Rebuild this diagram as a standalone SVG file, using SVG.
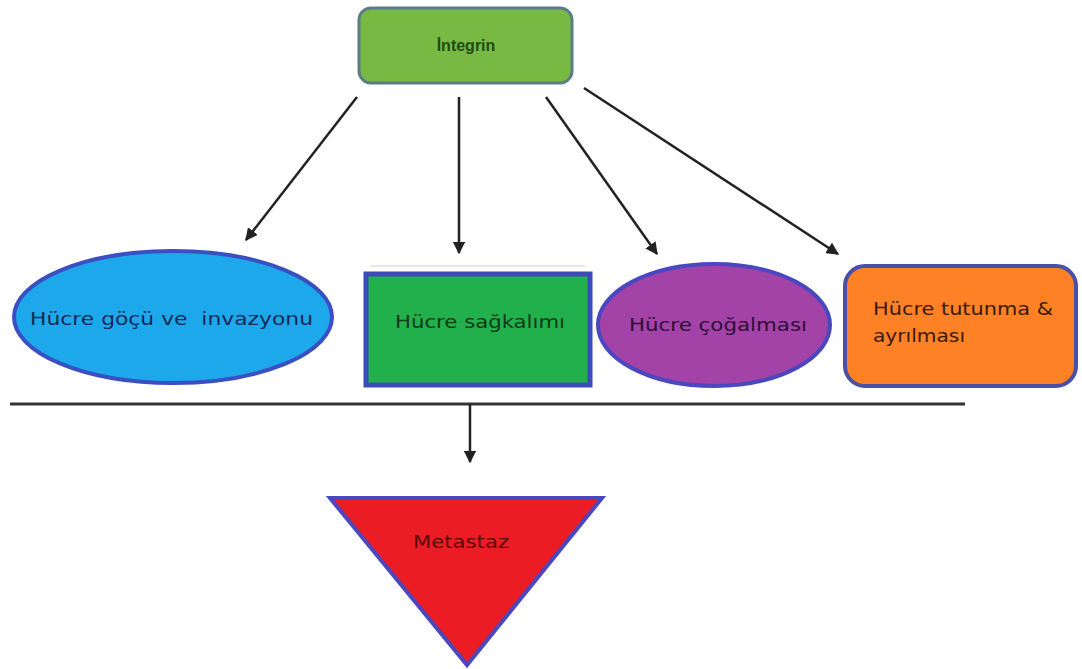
<svg xmlns="http://www.w3.org/2000/svg" width="1082" height="669" viewBox="0 0 1082 669">
<defs>
<marker id="ah" viewBox="0 0 10 10" refX="9" refY="5" markerWidth="5" markerHeight="5" orient="auto" markerUnits="strokeWidth">
<path d="M0,0 L10,5 L0,10 z" fill="#222"/>
</marker>
<style>
.lbl{font-family:"DejaVu Sans","Liberation Sans",sans-serif;font-size:17px;}
.conn{stroke:#222;stroke-width:2.5;fill:none;}
</style>
</defs>
<rect width="1082" height="669" fill="#fff"/>
<g id="integrin">
<rect x="359" y="8" width="213" height="75" rx="12" fill="#78b944" stroke="#5b7d86" stroke-width="3"/>
<text x="466" y="51" text-anchor="middle" font-family="Liberation Sans, sans-serif" font-size="16" font-weight="bold" fill="#1d4a12">İntegrin</text>
</g>
<g id="connectors">
<line class="conn" x1="357" y1="97" x2="246" y2="240" marker-end="url(#ah)"/>
<line class="conn" x1="459" y1="97" x2="459" y2="253" marker-end="url(#ah)"/>
<line class="conn" x1="546" y1="97" x2="657" y2="254" marker-end="url(#ah)"/>
<line class="conn" x1="584" y1="88" x2="838" y2="254" marker-end="url(#ah)"/>
<line x1="10" y1="404" x2="965" y2="404" stroke="#333" stroke-width="3"/>
<line class="conn" x1="470" y1="404" x2="470" y2="462" marker-end="url(#ah)"/>
</g>
<g id="goc">
<ellipse cx="173" cy="317" rx="159" ry="66" fill="#1ea8ec" stroke="#3a4fc2" stroke-width="4"/>
<text class="lbl" x="30" y="325" textLength="283" lengthAdjust="spacingAndGlyphs" fill="#122a55" xml:space="preserve">Hücre göçü ve  invazyonu</text>
</g>
<g id="sagkalim">
<line x1="370" y1="266" x2="585" y2="266" stroke="#ccc" stroke-width="1"/>
<rect x="366" y="274" width="224" height="111" fill="#22b04c" stroke="#3b4cb8" stroke-width="5"/>
<text class="lbl" x="395" y="328" textLength="170" lengthAdjust="spacingAndGlyphs" fill="#0e3a18">Hücre sağkalımı</text>
</g>
<g id="cogalma">
<ellipse cx="714" cy="325" rx="116" ry="61" fill="#a342a7" stroke="#4a47bf" stroke-width="4"/>
<text class="lbl" x="629" y="331" textLength="178" lengthAdjust="spacingAndGlyphs" fill="#2e0d38">Hücre çoğalması</text>
</g>
<g id="tutunma">
<rect x="845" y="266" width="231" height="120" rx="20" fill="#fe8126" stroke="#4a4fa8" stroke-width="4"/>
<text class="lbl" x="873" y="315" textLength="180" lengthAdjust="spacingAndGlyphs" fill="#3a1a08">Hücre tutunma &amp;</text>
<text class="lbl" x="873" y="342" textLength="92" lengthAdjust="spacingAndGlyphs" fill="#3a1a08">ayrılması</text>
</g>
<g id="metastaz">
<polygon points="330,498 602,498 467,665" fill="#ec1c24" stroke="#4a47bf" stroke-width="4" stroke-linejoin="miter"/>
<text class="lbl" x="413" y="548" textLength="96" lengthAdjust="spacingAndGlyphs" fill="#5a0a0a">Metastaz</text>
</g>
</svg>
